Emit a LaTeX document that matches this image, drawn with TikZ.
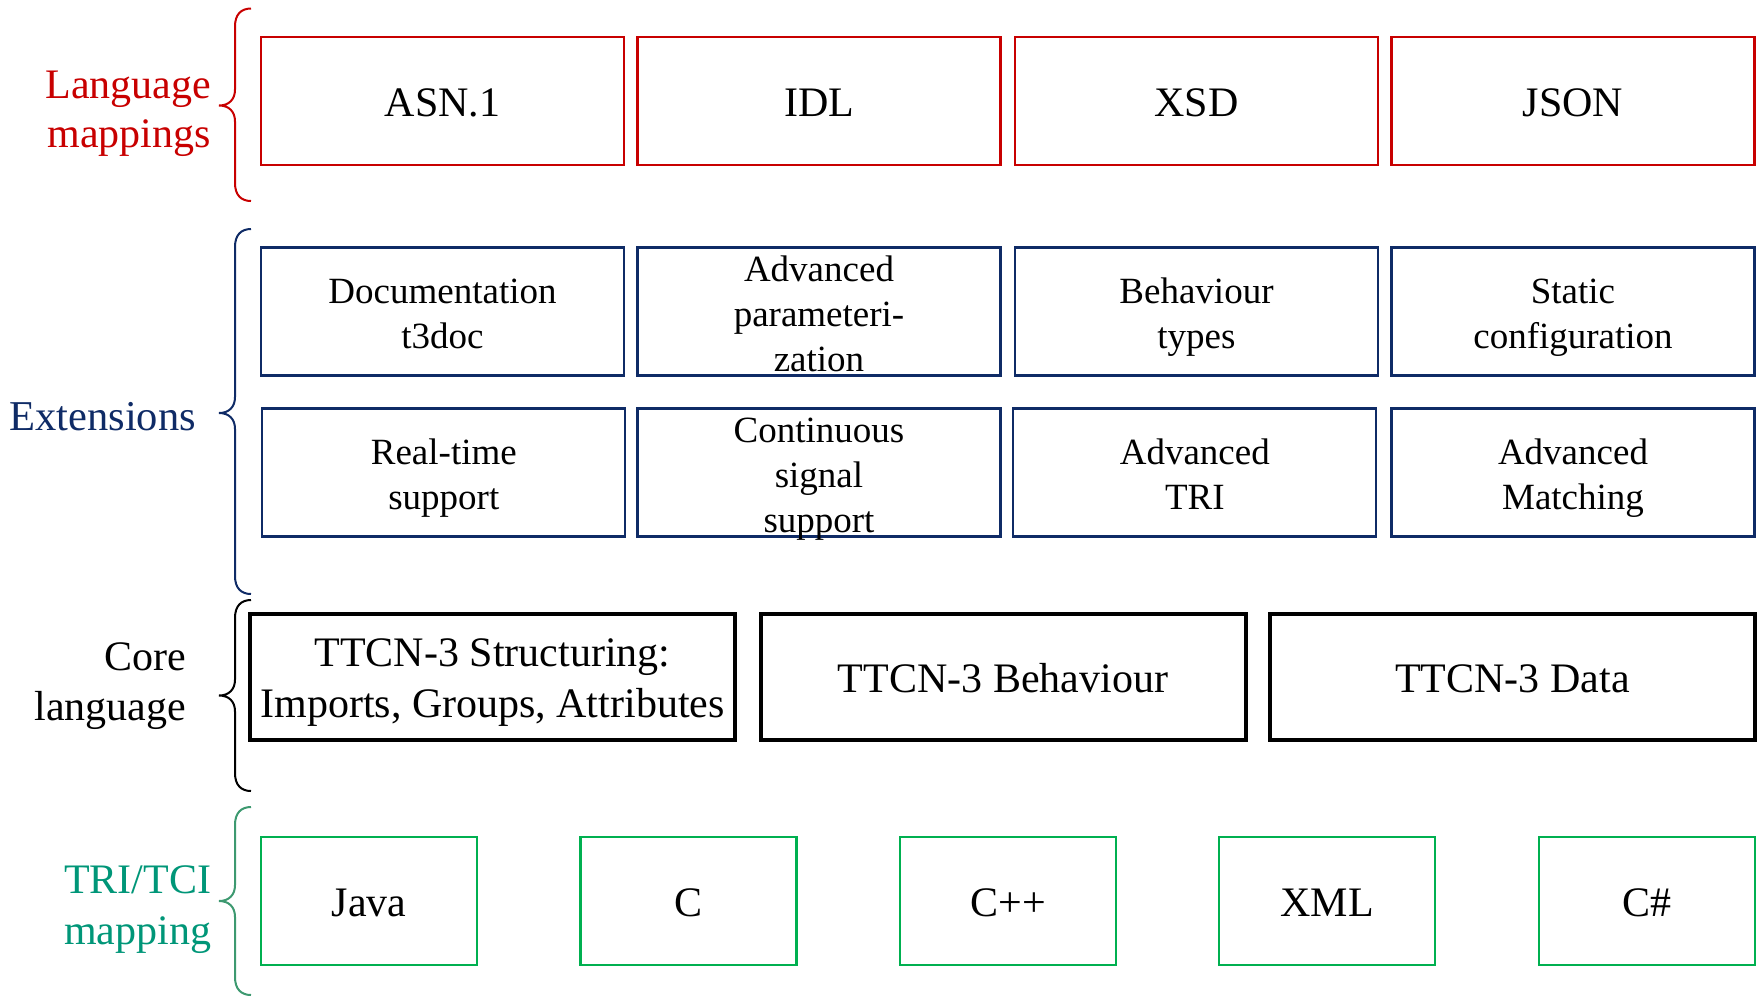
\documentclass[tikz,border=0pt]{standalone}
\usepackage{fontspec}
\setmainfont{Liberation Serif}
\definecolor{mapred}{HTML}{C80000}
\definecolor{extblue}{HTML}{0F2B66}
\definecolor{trigreen}{HTML}{00B050}
\definecolor{tritext}{HTML}{009678}
\definecolor{tribrace}{HTML}{3D9970}

% curly brace opening to the right: colour, top, tip, bottom (y grows downwards)
\newcommand\layerbrace[4]{%
  \draw[#1, line width=2pt]
    (251,#2) .. controls (241,#2) and (235,#2+6) .. (235,#2+18)
    -- (235,#3-16) .. controls (235,#3-6) and (229,#3) .. (219,#3)
    .. controls (229,#3) and (235,#3+6) .. (235,#3+16)
    -- (235,#4-18) .. controls (235,#4-6) and (241,#4) .. (251,#4);}

\begin{document}
\begin{tikzpicture}[x=1pt, y=-1pt,
  every node/.style={inner sep=0pt, outer sep=0pt},
  box/.style={draw, rectangle, align=center, fill=white, text depth=0pt},
  mapbox/.style={box, draw=mapred, line width=2.5pt, minimum width=363pt, minimum height=128pt,
    font=\fontsize{42}{49}\selectfont},
  extbox/.style={box, draw=extblue, line width=2.2pt, minimum width=363pt, minimum height=128pt,
    font=\fontsize{37}{45}\selectfont},
  corebox/.style={box, draw=black, line width=4pt, minimum width=485pt, minimum height=126pt,
    font=\fontsize{42}{51}\selectfont},
  tribox/.style={box, draw=trigreen, line width=2.2pt, minimum width=216pt, minimum height=128pt,
    font=\fontsize{42}{49}\selectfont},
  boxtext/.style={align=center, yshift=-5.5pt},
  layerlabel/.style={align=right, anchor=base east, font=\fontsize{42}{49}\selectfont}
]
\useasboundingbox (0,0) rectangle (1757,997);

% ---- language mappings
\node[layerlabel, text=mapred] (lmlabel) at (211,147) {Language\\mappings};
\layerbrace{mapred}{8.5}{105.5}{201}
\node[mapbox] (asn)  at (442.5,101)  {};
\node[mapbox] (idl)  at (819,101)    {};
\node[mapbox] (xsd)  at (1196.5,101) {};
\node[mapbox] (json) at (1573,101)   {};
\begin{scope}[every node/.append style={boxtext, font=\fontsize{42}{49}\selectfont}]
  \node (asnt)  at (asn)  {\strut ASN.1};
  \node (idlt)  at (idl)  {\strut IDL};
  \node (xsdt)  at (xsd)  {\strut XSD};
  \node (jsont) at (json) {\strut JSON};
\end{scope}

% ---- extensions
\node[layerlabel, text=extblue, font=\fontsize{42.5}{49}\selectfont] (extlabel) at (196,430) {Extensions};
\layerbrace{extblue}{229}{413}{594}
\node[extbox] (doc)    at (442.5,311.5)  {};
\node[extbox] (param)  at (819,311.5)    {};
\node[extbox] (btypes) at (1196.5,311.5) {};
\node[extbox] (static) at (1573,311.5)   {};
\node[extbox] (rt)     at (443.8,472.5)  {};
\node[extbox] (cont)   at (819,472.5)    {};
\node[extbox] (atri)   at (1194.8,472.5) {};
\node[extbox] (amatch) at (1573,472.5)   {};
\begin{scope}[every node/.append style={boxtext, font=\fontsize{37}{45}\selectfont}]
  \node (doct)    at (doc)    {\strut Documentation\\\strut t3doc};
  \node (paramt)  at (param)  {\strut Advanced\\\strut parameteri-\\\strut zation};
  \node (btypest) at (btypes) {\strut Behaviour\\\strut types};
  \node (statict) at (static) {\strut Static\\\strut configuration};
  \node (rtt)     at (rt)     {\strut Real-time\\\strut support};
  \node (contt)   at (cont)   {\strut Continuous\\\strut signal\\\strut support};
  \node (atrit)   at (atri)   {\strut Advanced\\\strut TRI};
  \node (amatcht) at (amatch) {\strut Advanced\\\strut Matching};
\end{scope}

% ---- core language
\node[layerlabel, text=black, font=\fontsize{42}{50}\selectfont] (corelabel) at (186,720) {Core\\language};
\layerbrace{black}{600}{695.5}{791}
\node[corebox] (struct) at (492.5,676.7)  {};
\node[corebox] (behav)  at (1003,676.7)   {};
\node[corebox] (data)   at (1512.5,676.7) {};
\begin{scope}[every node/.append style={boxtext, font=\fontsize{42}{51}\selectfont}]
  \node (structt) at (struct) {\strut TTCN-3 Structuring:\\\strut Imports, Groups, Attributes};
  \node (behavt)  at (behav)  {\strut TTCN-3 Behaviour};
  \node (datat)   at (data)   {\strut TTCN-3 Data};
\end{scope}

% ---- TRI/TCI mapping
\node[layerlabel, text=tritext, font=\fontsize{42}{51}\selectfont] (trilabel) at (211,944) {TRI/TCI\\mapping};
\layerbrace{tribrace}{807}{901}{995}
\node[tribox] (java) at (369,901)    {};
\node[tribox] (cl)   at (688.5,901)  {};
\node[tribox] (cpp)  at (1008,901)   {};
\node[tribox] (xml)  at (1327.3,901) {};
\node[tribox] (cs)   at (1646.6,901) {};
\begin{scope}[every node/.append style={boxtext, font=\fontsize{42}{49}\selectfont}]
  \node (javat) at (java) {\strut Java};
  \node (clt)   at (cl)   {\strut C};
  \node (cppt)  at (cpp)  {\strut C++};
  \node (xmlt)  at (xml)  {\strut XML};
  \node (cst)   at (cs)   {\strut C\#};
\end{scope}
\end{tikzpicture}
\end{document}
